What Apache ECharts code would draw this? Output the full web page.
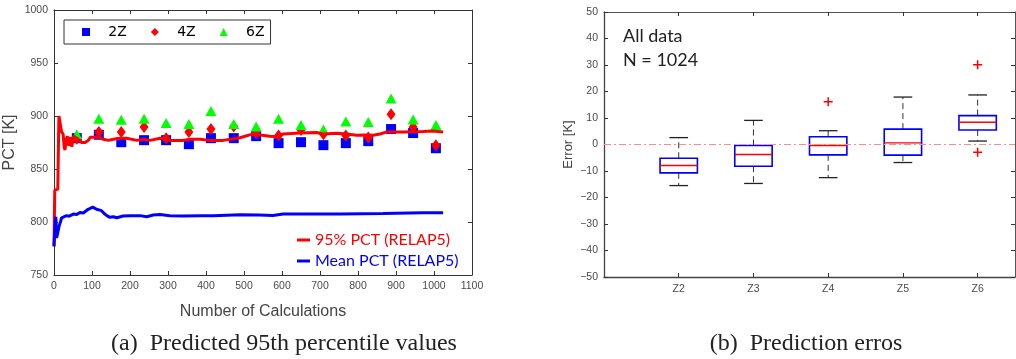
<!DOCTYPE html>
<html><head><meta charset="utf-8">
<script src="https://cdn.jsdelivr.net/npm/echarts@6/dist/echarts.min.js"></script>
<style>html,body{margin:0;padding:0;background:#fff}#c{width:1016px;height:359px}</style>
</head><body><div id="c"></div>
<script>
// ---- Left panel data ----
const pct95X = [0,2,4,10,12,13,17,20,24,27,29,32,35,39,44,47,51,60,73,82,90,96,117,130,143,156,174,191,218,235,253,279,305,340,358,384,410,445,489,520,542,568,586,603,647,691,708,744,770,797,814,840,858,876,919,971,997,1024];
const pct95Y = [777,830,831,831,880,900,900,885,883,870,868,878,881,872,880,871,881,879,875,875,877,880,880,878,877,878,879,879,877,878,877,879,877,877,878,878,877,877,879.5,882.7,882,881,880.6,883,884,884.4,883,883.8,883,881.8,882,881.8,883,885,885,885.3,885.8,885];
const meanX = [0,3,5,6,7,12,14,17,20,25,33,40,51,60,68,77,90,102,112,125,132,139,147,156,165,182,200,226,244,261,279,305,340,384,420,489,540,576,603,700,753,866,971,1024];
const meanY = [777,800,805,790,785,786,797,800,804,805,806,805.5,807.5,807,809,808.5,812,814,812,810.7,808,806,804.4,805,804,805.7,806,806,805,806.6,807,806,805.7,806,806,806.9,806.5,806.2,807.5,807.5,807.5,808,808.8,808.8];
const sampleX = [60,118,177,237,295,355,413,473,532,591,650,709,768,827,887,945,1005];
const pct2Z = [879.1,882.3,875.3,877.2,877.2,873.4,879.1,879.1,881,874.4,875.3,872.5,874.4,876.3,887.7,883.9,869.6];
const pct4Z = [878.5,884.8,884.8,889.6,879.1,884.8,887.7,890.2,884,881.6,886.7,882.9,881.6,879.7,901.6,889.6,872.5];
const pct6Z = [882.9,897.5,896.5,897.5,893.4,892.4,904.7,892.4,890.2,897.5,891.5,887.3,894.9,894.3,916.5,896.8,891.5];
const leftXTicks = [0,100,200,300,400,500,600,700,800,900,1000,1100];
const leftYTicks = [750,800,850,900,950,1000];

// ---- Right panel data ----
const zones = ['Z2','Z3','Z4','Z5','Z6'];
const zonePos = [1,2,3,4,5];
const whiskLow = [-15.5,-14.7,-12.5,-6.8,1.3];
const boxQ1 = [-10.7,-8.2,-3.9,-4.0,5.5];
const boxMed = [-7.9,-3.8,-0.4,0.6,8.4];
const boxQ3 = [-5.2,-0.4,2.9,5.8,10.9];
const whiskHigh = [2.6,9.1,5.2,17.9,18.7];
const outlierPos = [3,5,5];
const outlierVal = [16.1,30.1,-2.9];
const errYTicks = [-50,-40,-30,-20,-10,0,10,20,30,40,50];

const chart = echarts.init(document.getElementById('c'), null, {renderer:'canvas'});
const axisCol = '#333';
const labCol = '#4a4a4a';
const tickFont = 'Liberation Sans';

function frameAxis(extra){
  return Object.assign({
    type:'value',
    axisLine:{show:true,onZero:false,lineStyle:{color:axisCol,width:1}},
    axisTick:{show:true,inside:true,length:4,lineStyle:{color:axisCol}},
    axisLabel:{show:false},
    splitLine:{show:false}
  }, extra);
}

function renderBox(params, api){
  const x = api.value(0);
  const lo = api.coord([x, api.value(1)]);
  const q1 = api.coord([x, api.value(2)]);
  const md = api.coord([x, api.value(3)]);
  const q3 = api.coord([x, api.value(4)]);
  const hi = api.coord([x, api.value(5)]);
  const halfW = api.size([0.25, 0])[0];
  const capW = api.size([0.125, 0])[0];
  const cx = q1[0];
  const dash = {stroke:'#333', lineWidth:1, lineDash:[6,4]};
  const cap = {stroke:'#222', lineWidth:1.3};
  return {type:'group', children:[
    {type:'line', shape:{x1:cx,y1:q3[1],x2:cx,y2:hi[1]}, style:dash},
    {type:'line', shape:{x1:cx,y1:q1[1],x2:cx,y2:lo[1]}, style:dash},
    {type:'line', shape:{x1:cx-capW,y1:hi[1],x2:cx+capW,y2:hi[1]}, style:cap},
    {type:'line', shape:{x1:cx-capW,y1:lo[1],x2:cx+capW,y2:lo[1]}, style:cap},
    {type:'rect', shape:{x:cx-halfW,y:q3[1],width:2*halfW,height:q1[1]-q3[1]}, style:{fill:'#fff',stroke:'#0000ff',lineWidth:1.6}},
    {type:'line', shape:{x1:cx-halfW,y1:md[1],x2:cx+halfW,y2:md[1]}, style:{stroke:'#ff0000',lineWidth:1.4}}
  ]};
}

const plusPath = 'path://M7.5,0H10.5V7.5H18V10.5H10.5V18H7.5V10.5H0V7.5H7.5Z';

const option = {
  animation:false,
  backgroundColor:'#fff',
  grid:[
    {left:54, top:10, width:418, height:265},
    {left:604, top:12, width:411, height:265}
  ],
  xAxis:[
    frameAxis({gridIndex:0, min:0, max:1100, interval:100, position:'bottom',
      axisLabel:{show:true, color:labCol, fontSize:10.5, fontFamily:tickFont, margin:6, formatter:v=>String(v)},
      name:'Number of Calculations', nameLocation:'middle', nameGap:29,
      nameTextStyle:{color:'#444', fontSize:16, fontFamily:tickFont}}),
    frameAxis({gridIndex:0, min:0, max:1100, interval:100, position:'top'}),
    frameAxis({gridIndex:1, min:0, max:5.5, position:'bottom',
      axisLine:{show:true,onZero:false,lineStyle:{color:'#444',width:1.3}},
      axisTick:{show:true,inside:true,length:4,customValues:zonePos,lineStyle:{color:axisCol}},
      axisLabel:{show:true, customValues:zonePos, color:labCol, fontSize:10.5, fontFamily:tickFont, margin:7,
        formatter:v=>zones[zonePos.indexOf(v)] || ''}}),
    frameAxis({gridIndex:1, min:0, max:5.5, position:'top',
      axisLine:{show:true,onZero:false,lineStyle:{color:'#555',width:1}},
      axisTick:{show:true,inside:true,length:4,customValues:zonePos,lineStyle:{color:axisCol}}})
  ],
  yAxis:[
    frameAxis({gridIndex:0, min:750, max:1000, interval:50, position:'left',
      axisLabel:{show:true, color:labCol, fontSize:10.5, fontFamily:tickFont, margin:6, formatter:v=>String(v)},
      name:'PCT [K]', nameLocation:'middle', nameGap:36,
      nameTextStyle:{color:'#444', fontSize:16, fontFamily:tickFont}}),
    frameAxis({gridIndex:0, min:750, max:1000, interval:50, position:'right'}),
    frameAxis({gridIndex:1, min:-50, max:50, interval:10, position:'left',
      axisLine:{show:true,onZero:false,lineStyle:{color:'#444',width:1.3}},
      axisLabel:{show:true, color:labCol, fontSize:10.5, fontFamily:tickFont, margin:6,
        formatter:v=>String(v).replace('-','\u2212')},
      name:'Error [K]', nameLocation:'middle', nameGap:29,
      nameTextStyle:{color:'#444', fontSize:13, fontFamily:tickFont}}),
    frameAxis({gridIndex:1, min:-50, max:50, interval:10, position:'right',
      axisLine:{show:true,onZero:false,lineStyle:{color:'#555',width:1}}})
  ],
  legend:[
    {data:['2Z','4Z','6Z'], left:64, top:20, orient:'horizontal',
     padding:[5,6,5,18], itemGap:24, itemWidth:8, itemHeight:8,
     borderColor:'#333', borderWidth:1, backgroundColor:'#fff',
     formatter:n=>'   '+n,
     textStyle:{fontFamily:'DejaVu Sans', fontSize:14, color:'#000'}},
    {data:[{name:'95% PCT (RELAP5)', textStyle:{color:'#ff0000'}},
           {name:'Mean PCT (RELAP5)', textStyle:{color:'#0000ff'}}],
     left:292, top:227, orient:'vertical', itemGap:5, itemWidth:13, itemHeight:3, icon:'rect',
     textStyle:{fontFamily:'Lato', fontSize:16}}
  ],
  graphic:[
    {type:'text', left:623, top:27, style:{text:'All data', font:'18px Lato', fill:'#222'}},
    {type:'text', left:623, top:51, style:{text:'N = 1024', font:'18px Lato', fill:'#222'}},
    {type:'text', x:284, y:344, style:{text:'(a)  Predicted 95th percentile values', font:'24px "Liberation Serif"', fill:'#222', textAlign:'center', textVerticalAlign:'middle'}},
    {type:'text', x:806, y:344, style:{text:'(b)  Prediction erros', font:'24px "Liberation Serif"', fill:'#222', textAlign:'center', textVerticalAlign:'middle'}}
  ],
  series:[
    {name:'95% PCT (RELAP5)', type:'line', xAxisIndex:0, yAxisIndex:0, showSymbol:false, symbol:'none',
     data:pct95X.map((x,i)=>[x,pct95Y[i]]), lineStyle:{color:'#ff0000', width:3}, itemStyle:{color:'#ff0000'}},
    {name:'Mean PCT (RELAP5)', type:'line', xAxisIndex:0, yAxisIndex:0, showSymbol:false, symbol:'none',
     data:meanX.map((x,i)=>[x,meanY[i]]), lineStyle:{color:'#0000ff', width:3}, itemStyle:{color:'#0000ff'}},
    {name:'2Z', type:'scatter', xAxisIndex:0, yAxisIndex:0, symbol:'rect', symbolSize:10,
     data:sampleX.map((x,i)=>[x,pct2Z[i]]), itemStyle:{color:'#0000ff', opacity:1}},
    {name:'4Z', type:'scatter', xAxisIndex:0, yAxisIndex:0, symbol:'diamond', symbolSize:[9,12],
     data:sampleX.map((x,i)=>[x,pct4Z[i]]), itemStyle:{color:'#ff0000', opacity:1}},
    {name:'6Z', type:'scatter', xAxisIndex:0, yAxisIndex:0, symbol:'triangle', symbolSize:[11,10],
     data:sampleX.map((x,i)=>[x,pct6Z[i]]), itemStyle:{color:'#00ff00', opacity:1}},
    {name:'zero', type:'line', xAxisIndex:2, yAxisIndex:2, symbol:'none', silent:true,
     data:[[0,0],[5.5,0]], lineStyle:{color:'#ff8c8c', width:1, type:[7,3,2,3]}},
    {name:'box', type:'custom', xAxisIndex:2, yAxisIndex:2, renderItem:renderBox,
     encode:{x:0, y:[1,2,3,4,5]},
     data:zonePos.map((p,i)=>[p, whiskLow[i], boxQ1[i], boxMed[i], boxQ3[i], whiskHigh[i]])},
    {name:'outliers', type:'scatter', xAxisIndex:2, yAxisIndex:2, symbol:plusPath, symbolSize:9,
     data:outlierPos.map((p,i)=>[p,outlierVal[i]]), itemStyle:{color:'#ff0000', opacity:1}}
  ]
};
chart.setOption(option);
</script></body></html>
